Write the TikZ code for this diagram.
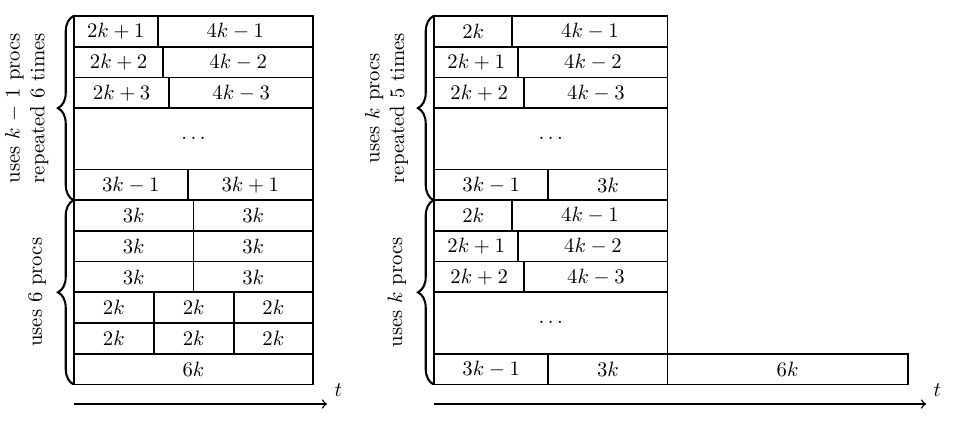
\documentclass[tikz,border=0pt]{standalone}
\usetikzlibrary{decorations.pathreplacing}
\newcommand\mycell[6]{%
  \node[cellbox, minimum width={(#3-#2)*0.483pt}, minimum height={(#5-#4)*0.483pt}] (#1) at (#2,#4) {#6};}
\begin{document}
\begin{tikzpicture}[x=0.483pt,y=-0.483pt,
  cellbox/.style={draw, line width=0.8pt, inner sep=0pt, outer sep=0pt, anchor=north west},
  bracepath/.style={decorate, decoration={brace, amplitude=7.5pt}, line width=1pt},
  sidelabel/.style={rotate=90, align=center, inner sep=0pt},
  timeaxis/.style={->, line width=0.7pt}]
\useasboundingbox (0,0) rectangle (961,422);
% ---------- left schedule ----------
\mycell{a1}{74}{157.7}{16}{46.7}{$2k+1$}
\mycell{b1}{157.7}{313}{16}{46.7}{$4k-1$}
\mycell{a2}{74}{163.3}{46.7}{77.4}{$2k+2$}
\mycell{b2}{163.3}{313}{46.7}{77.4}{$4k-2$}
\mycell{a3}{74}{169.3}{77.4}{108.1}{$2k+3$}
\mycell{b3}{169.3}{313}{77.4}{108.1}{$4k-3$}
\mycell{ad}{74}{313}{108.1}{169.5}{$\cdots$}
\mycell{a5}{74}{187.7}{169.5}{200.2}{$3k-1$}
\mycell{b5}{187.7}{313}{169.5}{200.2}{$3k+1$}
\mycell{c1}{74}{193.5}{200.2}{230.9}{$3k$}
\mycell{d1}{193.5}{313}{200.2}{230.9}{$3k$}
\mycell{c2}{74}{193.5}{230.9}{261.6}{$3k$}
\mycell{d2}{193.5}{313}{230.9}{261.6}{$3k$}
\mycell{c3}{74}{193.5}{261.6}{292.3}{$3k$}
\mycell{d3}{193.5}{313}{261.6}{292.3}{$3k$}
\mycell{e1}{74}{153.7}{292.3}{323}{$2k$}
\mycell{f1}{153.7}{233.7}{292.3}{323}{$2k$}
\mycell{g1}{233.7}{313}{292.3}{323}{$2k$}
\mycell{e2}{74}{153.7}{323}{353.7}{$2k$}
\mycell{f2}{153.7}{233.7}{323}{353.7}{$2k$}
\mycell{g2}{233.7}{313}{323}{353.7}{$2k$}
\mycell{h1}{74}{313}{353.7}{384.4}{$6k$}
\draw[bracepath] (73.5,200.2) -- (73.5,16);
\draw[bracepath] (73.5,384.4) -- (73.5,200.2);
\node[sidelabel] (lt) at (26.8,108.1) {uses $k$ $-$ 1 procs\\repeated 6 times};
\node[sidelabel] (lb) at (37,292.3) {uses 6 procs};
\coordinate (axl0) at (74,404);
\coordinate (axl1) at (327,404);
\draw[timeaxis] (axl0) -- (axl1) node[above right] (tl) {$t$};
% ---------- right schedule ----------
\mycell{p1}{434}{512.3}{16}{46.7}{$2k$}
\mycell{q1}{512.3}{667.5}{16}{46.7}{$4k-1$}
\mycell{p2}{434}{518.3}{46.7}{77.4}{$2k+1$}
\mycell{q2}{518.3}{667.5}{46.7}{77.4}{$4k-2$}
\mycell{p3}{434}{524.3}{77.4}{108.1}{$2k+2$}
\mycell{q3}{524.3}{667.5}{77.4}{108.1}{$4k-3$}
\mycell{pd}{434}{667.5}{108.1}{169.5}{$\cdots$}
\mycell{p5}{434}{548.3}{169.5}{200.2}{$3k-1$}
\mycell{q5}{548.3}{667.5}{169.5}{200.2}{$3k$}
\mycell{r1}{434}{512.3}{200.2}{230.9}{$2k$}
\mycell{s1}{512.3}{667.5}{200.2}{230.9}{$4k-1$}
\mycell{r2}{434}{518.3}{230.9}{261.6}{$2k+1$}
\mycell{s2}{518.3}{667.5}{230.9}{261.6}{$4k-2$}
\mycell{r3}{434}{524.3}{261.6}{292.3}{$2k+2$}
\mycell{s3}{524.3}{667.5}{261.6}{292.3}{$4k-3$}
\mycell{rd}{434}{667.5}{292.3}{353.7}{$\cdots$}
\mycell{r5}{434}{548.3}{353.7}{384.4}{$3k-1$}
\mycell{s5}{548.3}{667.5}{353.7}{384.4}{$3k$}
\mycell{u5}{667.5}{907.7}{353.7}{384.4}{$6k$}
\draw[bracepath] (433.5,200.2) -- (433.5,16);
\draw[bracepath] (433.5,384.4) -- (433.5,200.2);
\node[sidelabel] (rt) at (386.5,108.1) {uses $k$ procs\\repeated 5 times};
\node[sidelabel] (rb) at (397,292.3) {uses $k$ procs};
\coordinate (axr0) at (434,404);
\coordinate (axr1) at (926,404);
\draw[timeaxis] (axr0) -- (axr1) node[above right] (tr) {$t$};
\end{tikzpicture}
\end{document}
